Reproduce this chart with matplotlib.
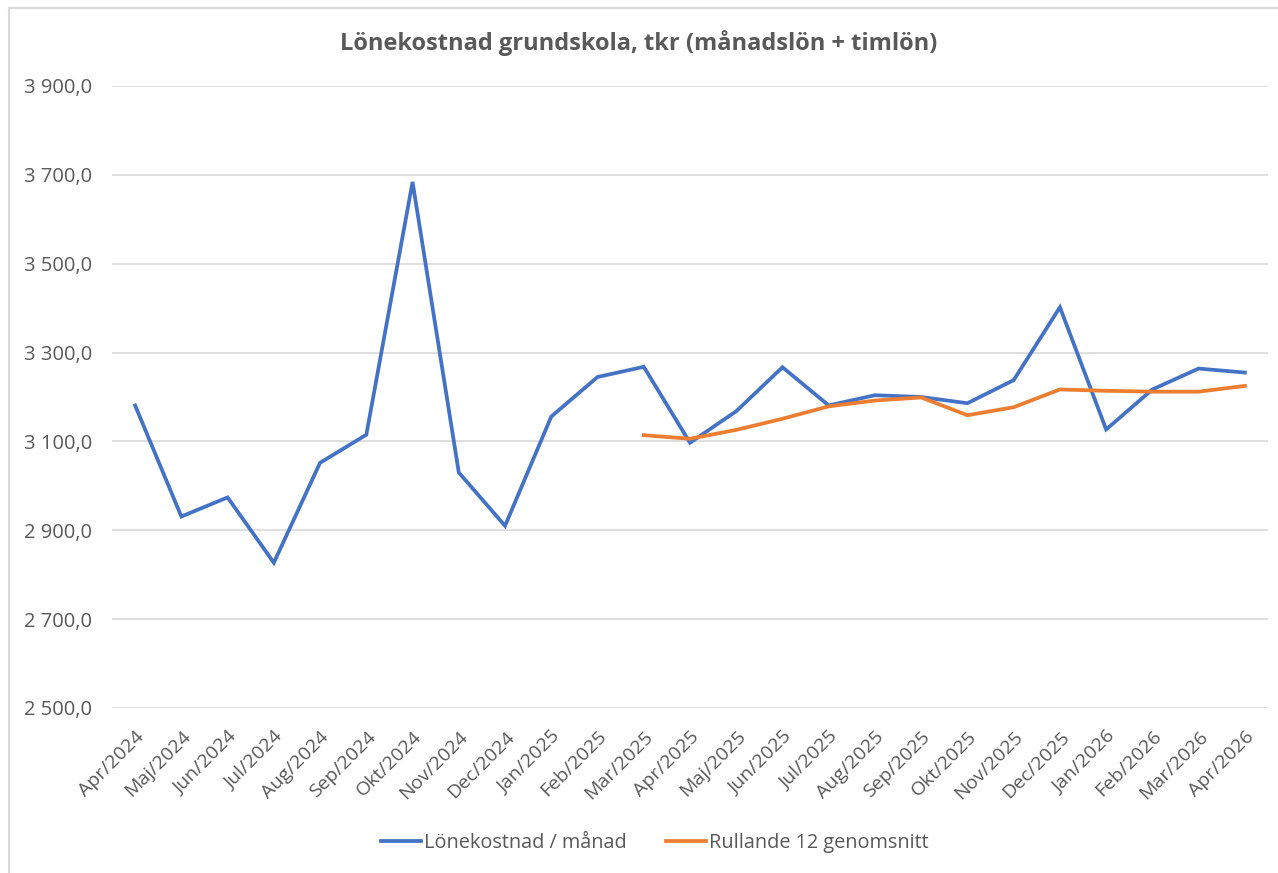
import numpy as np
import matplotlib
matplotlib.use('Agg')
import matplotlib.pyplot as plt
from matplotlib.lines import Line2D
from matplotlib.ticker import FuncFormatter

plt.rcParams['font.family'] = ['Open Sans', 'DejaVu Sans']

# Data (tkr)
months = ["Apr/2024", "Maj/2024", "Jun/2024", "Jul/2024", "Aug/2024", "Sep/2024",
          "Okt/2024", "Nov/2024", "Dec/2024", "Jan/2025", "Feb/2025", "Mar/2025",
          "Apr/2025", "Maj/2025", "Jun/2025", "Jul/2025", "Aug/2025", "Sep/2025",
          "Okt/2025", "Nov/2025", "Dec/2025", "Jan/2026", "Feb/2026", "Mar/2026",
          "Apr/2026"]
monthly = [3181, 2931, 2974, 2827, 3052, 3115, 3684, 3030, 2910, 3156, 3245, 3268,
           3097, 3168, 3267, 3181, 3204, 3200, 3186, 3238, 3402, 3127, 3217, 3264,
           3255]
rolling_start = 11  # Mar/2025
rolling = [3114, 3106, 3126, 3151, 3179, 3192, 3199, 3159, 3177, 3217, 3214, 3212,
           3212, 3225]

text_col = '#595959'
blue = '#4472C4'
orange = '#ED7D31'

fig = plt.figure(figsize=(12.78, 8.73), dpi=100)
ax = fig.add_axes([112 / 1278, 1 - 708 / 873, (1268 - 112) / 1278, (708 - 86) / 873])

x = np.arange(len(months))
ax.plot(x, monthly, color=blue, lw=2.7, solid_joinstyle='miter')
ax.plot(x[rolling_start:rolling_start + len(rolling)], rolling, color=orange, lw=2.7)

ax.set_xlim(-0.5, len(months) - 0.5)
ax.set_ylim(2500, 3900)
ax.set_yticks(np.arange(2500, 3901, 200))
ax.yaxis.set_major_formatter(FuncFormatter(
    lambda v, p: f"{int(v) // 1000} {int(v) % 1000:03d},0"))
ax.grid(axis='y', color='#D9D9D9', lw=1.2)
ax.set_axisbelow(True)
for s in ax.spines.values():
    s.set_visible(False)
ax.tick_params(axis='both', length=0, colors=text_col, labelsize=14)
ax.tick_params(axis='y', pad=14.4, labelsize=14.5)
ax.set_xticks(x)
ax.set_xticklabels(months, rotation=45, ha='right', rotation_mode='anchor')
ax.tick_params(axis='x', pad=14)

fig.text(0.5, 1 - 43 / 873, 'Lönekostnad grundskola, tkr (månadslön + timlön)',
         ha='center', va='center', fontsize=17, fontweight='bold', color=text_col)

handles = [Line2D([], [], color=blue, lw=2.7), Line2D([], [], color=orange, lw=2.7)]
fig.legend(handles, ['Lönekostnad / månad', 'Rullande 12 genomsnitt'],
           loc='center', bbox_to_anchor=(655 / 1278, 1 - 843 / 873), ncol=2,
           frameon=False, fontsize=14.3, labelcolor=text_col, handlelength=2.0,
           handletextpad=0.15, columnspacing=2.0)

# light chart border (top and left edges)
fig.add_artist(Line2D([9 / 1278, 1], [1 - 8 / 873, 1 - 8 / 873], color='#D9D9D9', lw=1.5))
fig.add_artist(Line2D([9 / 1278, 9 / 1278], [0, 1 - 8 / 873], color='#D9D9D9', lw=1.5))

fig.savefig('out.png', dpi=100)
